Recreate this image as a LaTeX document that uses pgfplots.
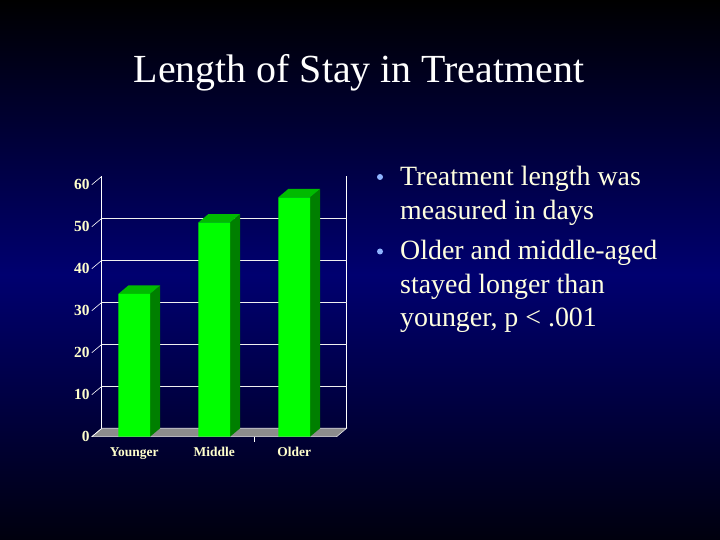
\documentclass[border=0pt]{standalone}
\usepackage{pgfplots}
\pgfplotsset{compat=1.18}
\usepackage{fontspec}
\setmainfont{Liberation Serif}
\definecolor{navymid}{HTML}{000070}
\definecolor{navybot}{HTML}{00000E}
\definecolor{frontgreen}{HTML}{00FF00}
\definecolor{sidegreen}{HTML}{007F00}
\definecolor{topgreen}{HTML}{00BB00}
\definecolor{floorgray}{HTML}{8C8C8C}
\definecolor{cream}{HTML}{FFFFCC}
\definecolor{bulletblue}{HTML}{8FB4FF}
\begin{document}
\begin{tikzpicture}
% background
\shade[top color=black, bottom color=navymid] (0,265bp) rectangle (720bp,540bp);
\shade[top color=navymid, bottom color=navybot] (0,0) rectangle (720bp,265.5bp);
% title
\node[anchor=base, text=white, font=\fontsize{40}{44}\selectfont] at (359bp,457bp) {Length of Stay in Treatment};
% bullets
\begin{scope}[every node/.style={anchor=base west, text=cream!60!white, font=\fontsize{28}{33}\selectfont, inner sep=0pt}]
\node at (400bp,354.5bp) {Treatment length was};
\node at (400bp,320bp) {measured in days};
\node at (400bp,280bp) {Older and middle-aged};
\node at (400bp,246.5bp) {stayed longer than};
\node at (400bp,213bp) {younger, p < .001};
\end{scope}
\fill[bulletblue] (380bp,363bp) circle (3bp);
\fill[bulletblue] (380bp,288.5bp) circle (3bp);
\begin{axis}[
  x=80bp, y=4.2bp,
  anchor=south west, at={(91.8bp,103.3bp)},
  xmin=-0.53, xmax=2.66, ymin=0, ymax=62,
  clip=false,
  axis line style={draw=none},
  major tick length=0pt,
  ytick={0,10,20,30,40,50,60},
  xtick={0,1,2},
  xticklabels={Younger,Middle,Older},
  /pgf/number format/assume math mode=true,
  yticklabel style={font=\fontsize{15.5}{15.5}\selectfont\bfseries, text=cream, inner sep=1pt, xshift=-1bp},
  xticklabel style={font=\fontsize{13.5}{13.5}\selectfont\bfseries, text=cream, anchor=base, yshift=-20bp},
]
% floor
\addplot[fill=floorgray, draw=white!80!gray, line width=0.6bp] coordinates {(-0.53,0) (2.53,0) (2.655,2) (-0.405,2)} -- cycle;
% back walls and gridlines
\addplot[white, line width=0.8bp] coordinates {(-0.405,2) (-0.405,62)};
\addplot[white, line width=0.8bp] coordinates {(2.655,2) (2.655,62)};
\addplot[white!88!gray, line width=0.8bp] coordinates {(-0.405,12) (2.655,12)};
\addplot[white!88!gray, line width=0.8bp] coordinates {(-0.405,22) (2.655,22)};
\addplot[white!88!gray, line width=0.8bp] coordinates {(-0.405,32) (2.655,32)};
\addplot[white!88!gray, line width=0.8bp] coordinates {(-0.405,42) (2.655,42)};
\addplot[white!88!gray, line width=0.8bp] coordinates {(-0.405,52) (2.655,52)};
% slanted ticks
\addplot[white, line width=0.6bp] coordinates {(-0.53,0) (-0.405,2)};
\addplot[white, line width=0.6bp] coordinates {(-0.53,10) (-0.405,12)};
\addplot[white, line width=0.6bp] coordinates {(-0.53,20) (-0.405,22)};
\addplot[white, line width=0.6bp] coordinates {(-0.53,30) (-0.405,32)};
\addplot[white, line width=0.6bp] coordinates {(-0.53,40) (-0.405,42)};
\addplot[white, line width=0.6bp] coordinates {(-0.53,50) (-0.405,52)};
\addplot[white, line width=0.6bp] coordinates {(-0.53,60) (-0.405,62)};
\addplot[white, line width=0.6bp] coordinates {(1.5,0) (1.5,-1.3)};
% side faces
\addplot[fill=sidegreen, draw=none] coordinates {(0.198,0) (0.323,2) (0.323,36) (0.198,34)} -- cycle;
\addplot[fill=sidegreen, draw=none] coordinates {(1.198,0) (1.323,2) (1.323,53) (1.198,51)} -- cycle;
\addplot[fill=sidegreen, draw=none] coordinates {(2.198,0) (2.323,2) (2.323,59) (2.198,57)} -- cycle;
% top faces
\addplot[fill=topgreen, draw=none] coordinates {(-0.198,34) (-0.073,36) (0.323,36) (0.198,34)} -- cycle;
\addplot[fill=topgreen, draw=none] coordinates {(0.802,51) (0.927,53) (1.323,53) (1.198,51)} -- cycle;
\addplot[fill=topgreen, draw=none] coordinates {(1.802,57) (1.927,59) (2.323,59) (2.198,57)} -- cycle;
% front faces
\addplot[ybar, bar width=0.396, fill=frontgreen, draw=none] coordinates {(0,34) (1,51) (2,57)};
\end{axis}
\pgfresetboundingbox
\path (0,0) rectangle (720bp,540bp);
\end{tikzpicture}
\end{document}
